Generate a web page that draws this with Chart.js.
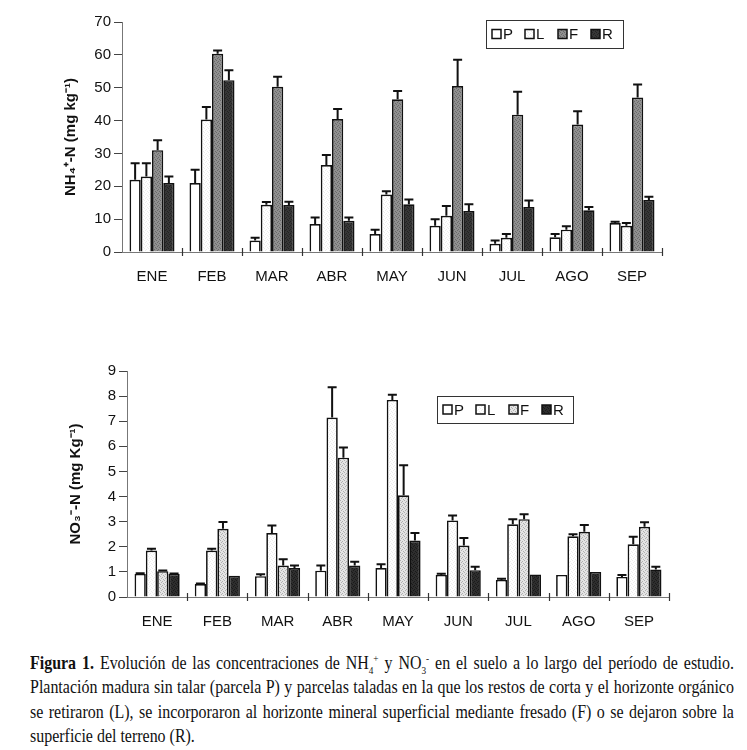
<!DOCTYPE html>
<html>
<head>
<meta charset="utf-8">
<script src="https://cdn.jsdelivr.net/npm/chart.js@4.4.1/dist/chart.umd.min.js"></script>
<style>
  body { margin: 0; background: #fff; width: 747px; height: 750px; position: relative; overflow: hidden; }
  #c1 { position: absolute; left: 0; top: 0; }
  #c2 { position: absolute; left: 0; top: 340px; }
  #cap { position: absolute; left: 30px; top: 651px; width: 838px; color: #111;
         transform: scaleX(0.84); transform-origin: 0 0;
         font-family: "Liberation Serif", "Times New Roman", serif; font-size: 19px; line-height: 24.4px; }
  #cap div { text-align: justify; text-align-last: justify; white-space: nowrap; }
  #cap div.last { text-align-last: left; }
  sub, sup { font-size: 11px; line-height: 0; }
</style>
</head>
<body>
<canvas id="c1" width="747" height="300"></canvas>
<canvas id="c2" width="747" height="300"></canvas>
<div id="cap">
  <div><b>Figura 1.</b> Evolución de las concentraciones de NH<sub>4</sub><sup>+</sup> y NO<sub>3</sub><sup>-</sup> en el suelo a lo largo del período de estudio.</div>
  <div>Plantación madura sin talar (parcela P) y parcelas taladas en la que los restos de corta y el horizonte orgánico</div>
  <div>se retiraron (L), se incorporaron al horizonte mineral superficial mediante fresado (F) o se dejaron sobre la</div>
  <div class="last">superficie del terreno (R).</div>
</div>
<script>
// months and series
var months = ['ENE', 'FEB', 'MAR', 'ABR', 'MAY', 'JUN', 'JUL', 'AGO', 'SEP'];
var seriesNames = ['P', 'L', 'F', 'R'];

// NH4+-N (mg kg-1), mean and error
var nh4P = [22, 21, 3.5, 8.5, 5.5, 8, 2.5, 4.5, 8.8];
var nh4PErr = [5, 4, 0.8, 2, 1.3, 2, 1, 1, 0.4];
var nh4L = [23, 40.3, 14.4, 26.5, 17.5, 11, 4.3, 6.8, 8];
var nh4LErr = [4, 3.8, 0.8, 3, 1, 3, 1.2, 1, 0.8];
var nh4F = [31, 60.3, 50.3, 40.5, 46.5, 50.5, 41.8, 38.8, 47];
var nh4FErr = [3, 1, 3, 3, 2.5, 8, 7, 4, 4];
var nh4R = [21, 52.3, 14.3, 9.5, 14.5, 12.5, 13.7, 12.7, 15.8];
var nh4RErr = [2, 3, 1, 1, 1.5, 2, 2, 1, 1];

// NO3--N (mg Kg-1), mean and error
var no3P = [0.92, 0.52, 0.83, 1.05, 1.15, 0.88, 0.68, 0.88, 0.8];
var no3PErr = [0.03, 0.02, 0.08, 0.2, 0.15, 0.05, 0.05, 0, 0.08];
var no3L = [1.85, 1.85, 2.55, 7.15, 7.85, 3.05, 2.9, 2.42, 2.1];
var no3LErr = [0.07, 0.07, 0.3, 1.2, 0.2, 0.2, 0.2, 0.08, 0.3];
var no3F = [1.03, 2.72, 1.25, 5.55, 4.05, 2.05, 3.1, 2.6, 2.8];
var no3FErr = [0.03, 0.27, 0.25, 0.4, 1.2, 0.3, 0.2, 0.27, 0.18];
var no3R = [0.92, 0.85, 1.15, 1.25, 2.25, 1.07, 0.9, 1.0, 1.1];
var no3RErr = [0.02, 0, 0.1, 0.15, 0.3, 0.13, 0, 0, 0.1];

// scattered dots, like the scanned screen tones
function pattern(bg, dot) {
  var c = document.createElement('canvas');
  c.width = 4; c.height = 4;
  var x = c.getContext('2d');
  x.fillStyle = bg; x.fillRect(0, 0, 4, 4);
  x.fillStyle = dot;
  x.fillRect(0, 0, 1, 1); x.fillRect(2, 1, 1, 1); x.fillRect(3, 3, 1, 1); x.fillRect(1, 2, 1, 1);
  return x.createPattern(c, 'repeat');
}

var ink = '#111';
var font = '"Liberation Sans", Arial, sans-serif';

// error bars drawn above each bar
var errorBars = {
  id: 'errorBars',
  afterDatasetsDraw: function(chart) {
    var ctx = chart.ctx;
    var yScale = chart.scales.y;
    ctx.save();
    ctx.strokeStyle = ink;
    ctx.lineWidth = 2;
    chart.data.datasets.forEach(function(ds, i) {
      var meta = chart.getDatasetMeta(i);
      meta.data.forEach(function(bar, j) {
        var e = ds.err[j];
        if (!e) return;
        var yTop = yScale.getPixelForValue(ds.data[j] + e);
        ctx.beginPath();
        ctx.moveTo(bar.x, bar.y);
        ctx.lineTo(bar.x, yTop);
        ctx.moveTo(bar.x - 4.5, yTop);
        ctx.lineTo(bar.x + 4.5, yTop);
        ctx.stroke();
      });
    });
    ctx.restore();
  }
};

// boxed legend with squares
var boxLegend = {
  id: 'boxLegend',
  afterDraw: function(chart, args, opts) {
    var ctx = chart.ctx;
    ctx.save();
    ctx.strokeStyle = '#333';
    ctx.lineWidth = 1;
    ctx.strokeRect(opts.x + 0.5, opts.y + 0.5, opts.w, opts.h);
    ctx.font = '15px ' + font;
    ctx.textBaseline = 'middle';
    var cy = opts.y + opts.h / 2;
    chart.data.datasets.forEach(function(ds, i) {
      var sx = opts.x + 6 + i * opts.step;
      ctx.fillStyle = ds.backgroundColor;
      ctx.fillRect(sx, cy - 4.5, 9, 9);
      ctx.strokeStyle = ink;
      ctx.lineWidth = 1.5;
      ctx.strokeRect(sx, cy - 4.5, 9, 9);
      ctx.fillStyle = ink;
      ctx.fillText(ds.label, sx + 11, cy + 1);
    });
    ctx.restore();
  }
};

// x ticks in the original cross the axis line, at category boundaries
var crossTicks = {
  id: 'crossTicks',
  afterDraw: function(chart) {
    var ctx = chart.ctx;
    var xs = chart.scales.x;
    var n = chart.data.labels.length;
    var step = (xs.right - xs.left) / n;
    ctx.save();
    ctx.strokeStyle = '#333';
    ctx.lineWidth = 1.2;
    for (var i = 1; i <= n; i++) {
      var px = Math.round(xs.left + i * step) + 0.5;
      ctx.beginPath();
      ctx.moveTo(px, xs.top - 4);
      ctx.lineTo(px, xs.top + 4);
      ctx.stroke();
    }
    ctx.restore();
  }
};

function makeChart(el, cfg) {
  var datasets = cfg.values.map(function(v, i) {
    return {
      label: seriesNames[i],
      data: v,
      err: cfg.errors[i],
      backgroundColor: cfg.fills[i],
      borderColor: ink,
      borderWidth: 1.7,
      borderSkipped: 'bottom',
      categoryPercentage: 0.75,
      barPercentage: 1.0
    };
  });
  return new Chart(el.getContext('2d'), {
    type: 'bar',
    data: { labels: months, datasets: datasets },
    options: {
      responsive: false,
      animation: false,
      layout: { padding: cfg.padding },
      plugins: {
        legend: { display: false },
        tooltip: { enabled: false },
        boxLegend: cfg.legend
      },
      scales: {
        x: {
          grid: { display: false },
          border: { color: '#777', width: 1 },
          ticks: { color: ink, font: { family: font, size: 15 }, padding: 8, maxRotation: 0 },
          afterFit: function(s) { s.height = cfg.xHeight; }
        },
        y: {
          min: 0,
          max: cfg.yMax,
          grid: { drawOnChartArea: false, drawTicks: true, tickLength: 8, color: '#444', lineWidth: 1 },
          border: { color: '#777', width: 1 },
          ticks: { stepSize: cfg.yStep, color: ink, font: { family: font, size: 15 }, padding: 3 },
          title: { display: true, text: cfg.title, color: ink, font: { family: font, size: 15, weight: 'bold' }, padding: { top: 2, bottom: 0 } },
          afterFit: function(s) { s.width = 62; }
        }
      }
    },
    plugins: [errorBars, boxLegend, crossTicks]
  });
}

var white = '#ffffff';
var whiteL = pattern('#ffffff', '#ececec');

makeChart(document.getElementById('c1'), {
  values: [nh4P, nh4L, nh4F, nh4R],
  errors: [nh4PErr, nh4LErr, nh4FErr, nh4RErr],
  fills: [white, whiteL, pattern('#909090', '#6a6a6a'), pattern('#363636', '#222')],
  yMax: 70, yStep: 10,
  title: 'NH\u2084\u207A-N (mg kg\u207B\u00B9)',
  padding: { left: 60, top: 22, right: 85, bottom: 0 },
  xHeight: 48,
  legend: { x: 486, y: 20, w: 137, h: 28, step: 33 }
});

makeChart(document.getElementById('c2'), {
  values: [no3P, no3L, no3F, no3R],
  errors: [no3PErr, no3LErr, no3FErr, no3RErr],
  fills: [white, whiteL, pattern('#e4e4e4', '#b0b0b0'), pattern('#2e2e2e', '#1a1a1a')],
  yMax: 9, yStep: 1,
  title: 'NO\u2083\u207B-N (mg Kg\u207B\u00B9)',
  padding: { left: 65, top: 31, right: 78, bottom: 0 },
  xHeight: 43,
  legend: { x: 437, y: 56, w: 136, h: 27, step: 33 }
});
</script>
</body>
</html>
